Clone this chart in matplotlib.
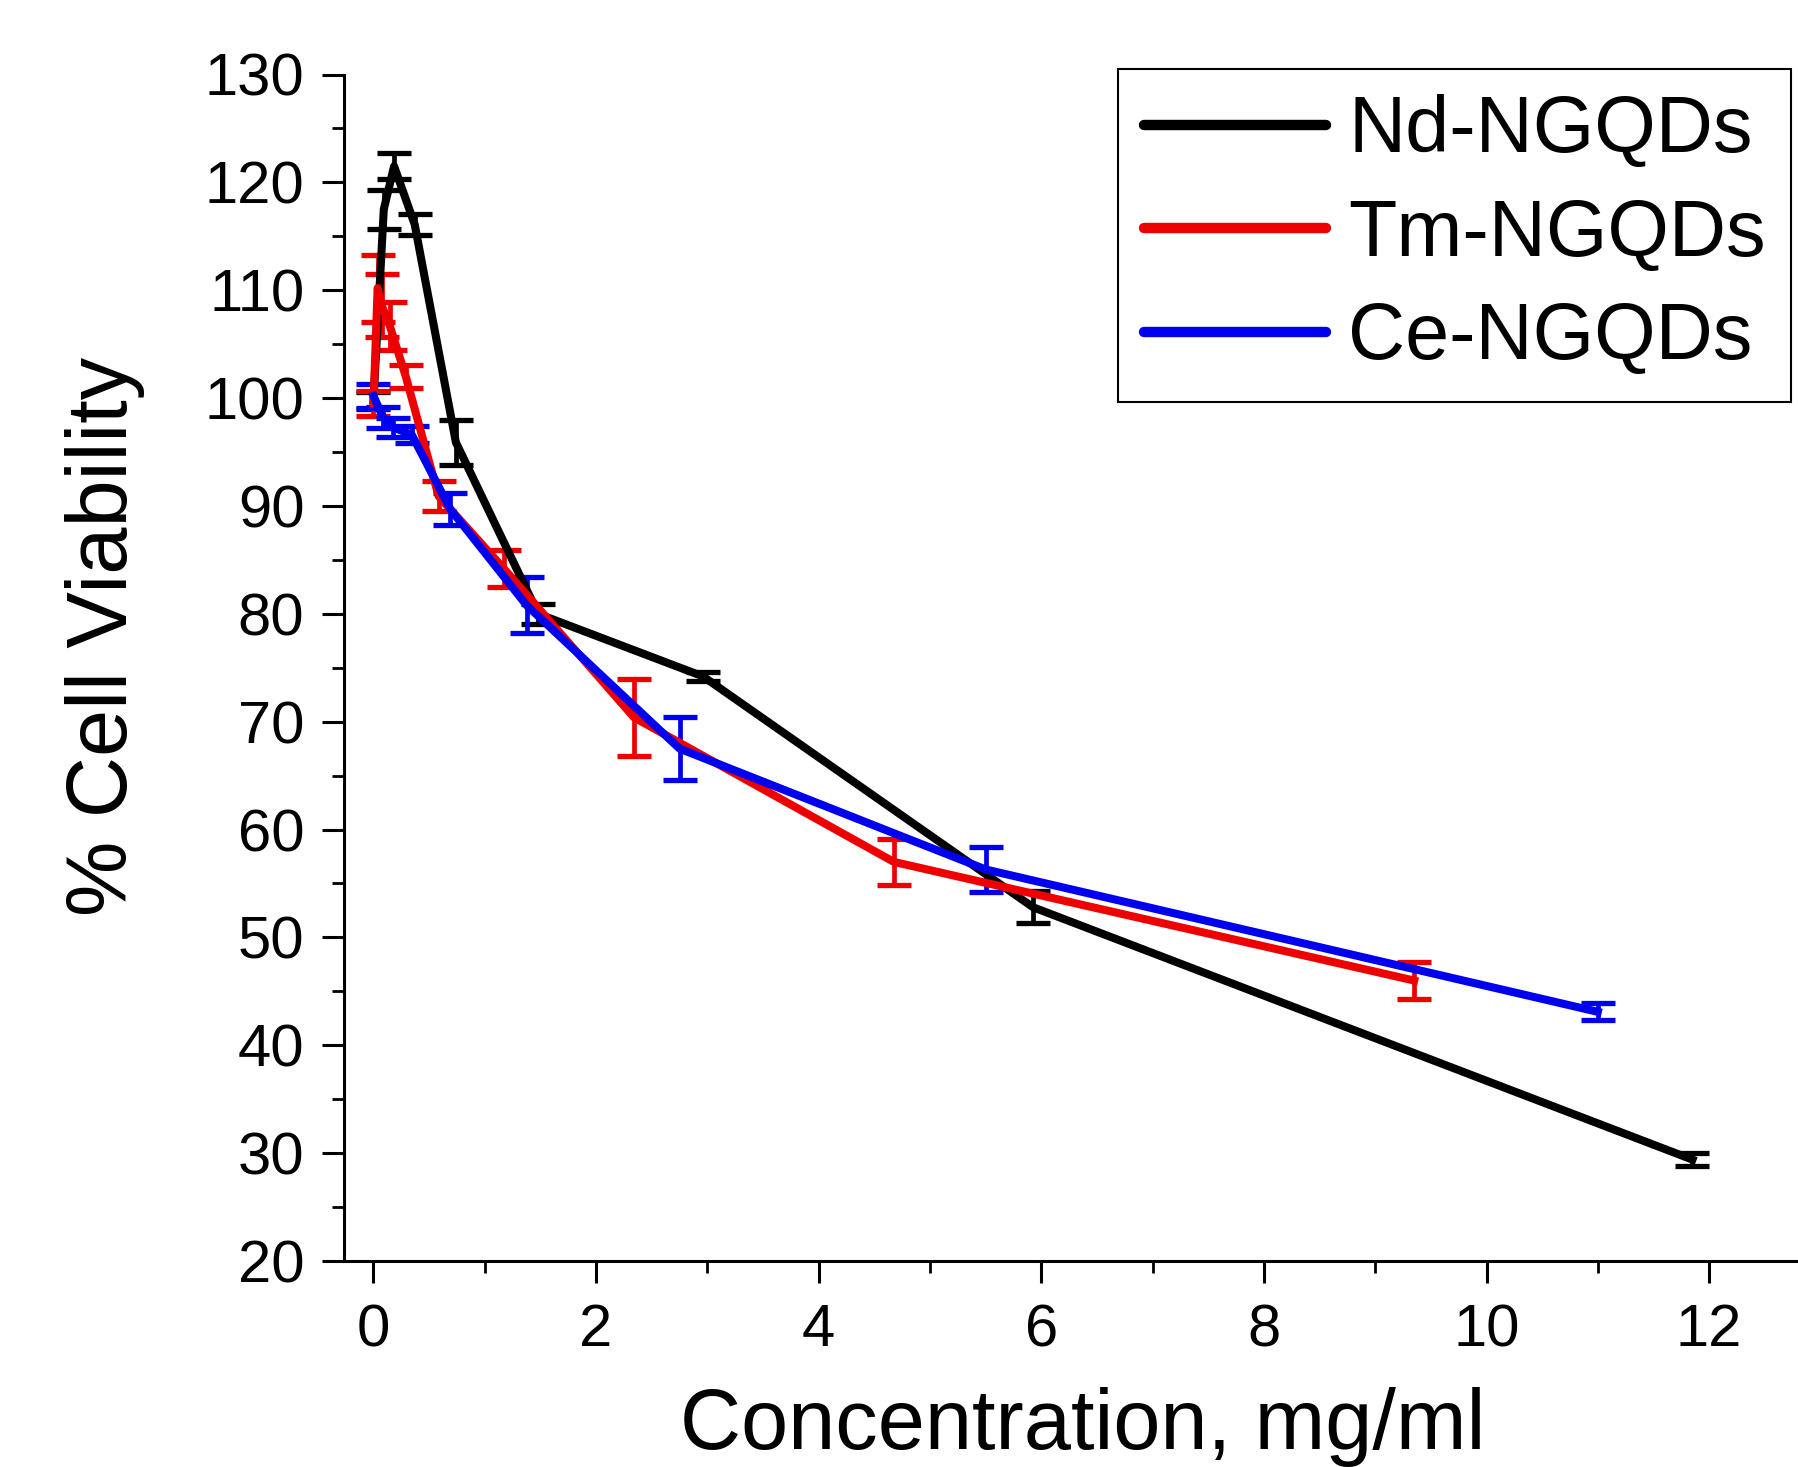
import matplotlib
matplotlib.use("Agg")
import matplotlib.pyplot as plt
from matplotlib.ticker import MultipleLocator
from matplotlib.lines import Line2D

plt.rcParams['font.family'] = ['Liberation Sans', 'DejaVu Sans']

# concentration, mg/ml  and  % cell viability (mean, error)
nd_x = [0, 0.0925, 0.185, 0.37, 0.74, 1.48, 2.96, 5.925, 11.85]
nd_y = [99.8, 117.5, 121.5, 116.1, 95.9, 80.0, 74.2, 52.8, 29.4]
nd_err = [0.8, 1.8, 1.2, 1.0, 2.1, 0.9, 0.4, 1.5, 0.6]

tm_x = [0, 0.037, 0.073, 0.146, 0.29, 0.585, 1.17, 2.34, 4.675, 9.35]
tm_y = [99.5, 110.2, 108.6, 106.7, 102.0, 90.9, 84.2, 70.4, 57.0, 46.0]
tm_err = [1.2, 3.1, 2.9, 2.2, 1.1, 1.4, 1.7, 3.6, 2.1, 1.7]

ce_x = [0, 0.086, 0.172, 0.344, 0.69, 1.375, 2.75, 5.5, 11.0]
ce_y = [100.2, 98.2, 97.3, 96.6, 89.7, 80.8, 67.5, 56.3, 43.1]
ce_err = [1.1, 1.0, 0.9, 0.8, 1.5, 2.6, 2.9, 2.1, 0.8]

series = [
    ("Nd-NGQDs", nd_x, nd_y, nd_err, "black"),
    ("Tm-NGQDs", tm_x, tm_y, tm_err, "#ee0000"),
    ("Ce-NGQDs", ce_x, ce_y, ce_err, "#0000ee"),
]

fig = plt.figure(figsize=(17.98, 14.67), dpi=100)
# axes runs off the right edge like the original
ax = fig.add_axes([344 / 1798, 1 - 1261 / 1467, 1498.7 / 1798, (1261 - 74.5) / 1467])

handles = []
for name, x, y, err, col in series:
    ax.errorbar(x, y, yerr=err, color=col, lw=5.8, elinewidth=3.4, capsize=12,
                capthick=3.8, solid_joinstyle='round')
    handles.append(Line2D([], [], color=col, lw=7.5, solid_capstyle='round'))

ax.set_xlim(-0.265, 13.2)
ax.set_ylim(20, 130)
ax.xaxis.set_major_locator(MultipleLocator(2))
ax.xaxis.set_minor_locator(MultipleLocator(1))
ax.yaxis.set_major_locator(MultipleLocator(10))
ax.yaxis.set_minor_locator(MultipleLocator(5))

for s in ['top', 'right']:
    ax.spines[s].set_visible(False)
for s in ['left', 'bottom']:
    ax.spines[s].set_linewidth(2.2)

ax.tick_params(which='major', direction='out', length=15.5, width=2.2, labelsize=43)
ax.tick_params(which='minor', direction='out', length=8.5, width=2.0)
ax.tick_params(axis='x', pad=15)
ax.tick_params(axis='y', pad=13)

fig.text(105 / 1798, 1 - 636 / 1467, "% Cell Viability", rotation=90,
         ha='center', va='center', fontsize=61)
fig.text(1083 / 1798, (1467 - 1449) / 1467, "Concentration, mg/ml",
         ha='center', va='baseline', fontsize=61)

leg = fig.legend(handles, [s[0] for s in series], loc='upper right',
                 bbox_to_anchor=(1791 / 1798, 1 - 69 / 1467),
                 bbox_transform=fig.transFigure, borderaxespad=0, fontsize=57,
                 handlelength=2.3, handletextpad=0.28, labelspacing=0.36,
                 borderpad=0.32, fancybox=False, framealpha=1, edgecolor='black')
leg.get_frame().set_linewidth(1.5)

fig.savefig("out.png", dpi=100)
